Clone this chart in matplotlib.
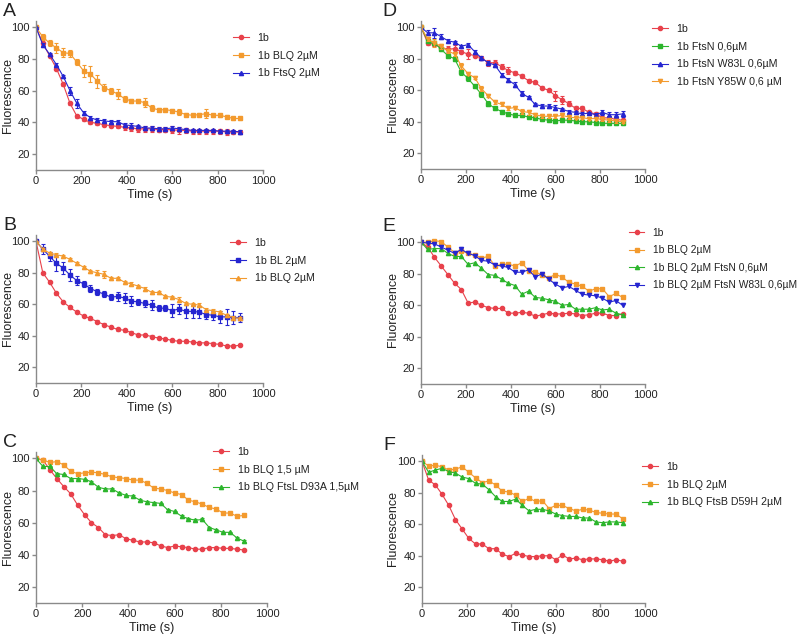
import matplotlib
matplotlib.use("Agg")
import matplotlib.pyplot as plt

plt.rcParams["font.family"] = ["Liberation Sans", "DejaVu Sans"]

RED = "#e8414b"
ORANGE = "#f39a2e"
BLUE = "#2525d0"
GREEN = "#2cb52c"
AXIS = "#8a8a8a"
TEXT = "#222222"

time_s = [0, 30, 60, 90, 120, 150, 180, 210, 240, 270, 300, 330, 360, 390, 420, 450,
          480, 510, 540, 570, 600, 630, 660, 690, 720, 750, 780, 810, 840, 870, 900]

# Panel A
a_1b = [100, 90, 82, 74, 64, 52, 44, 42, 40, 39.5, 38.5, 38, 37.5, 37, 36.5, 36, 36, 36,
        35.5, 35.5, 35.5, 35, 35, 34.5, 34.5, 34.5, 34.5, 34.5, 34, 34, 34]
a_1b_err = [0, 1, 1, 1, 1, 1, 1, 1, 1, 1, 1, 1, 1, 1.5, 2, 2, 2, 2, 1.5, 1.5, 2, 2, 1.5,
            1.5, 1.5, 1.5, 1.5, 1.5, 2, 1.5, 1.5]
a_blq = [100, 94, 90, 87, 84, 83.5, 78, 72.5, 70.5, 66, 62, 60, 58, 55, 53.5, 53.5, 52.5,
         49, 48, 48, 47.5, 46.5, 45, 44.5, 45, 45.5, 44.5, 44.5, 43.5, 42.5, 42.5]
a_blq_err = [0, 2, 2, 3, 3, 2, 2, 4, 5, 4, 2, 2, 3, 2, 1, 1, 3, 2, 1, 1, 1, 2, 1, 1, 1, 3,
             1, 1, 1, 1, 1]
a_ftsq = [100, 89, 83, 76.5, 69, 60, 52, 46, 43, 41.5, 41, 40.5, 40.5, 38.5, 38, 37.5,
          36.5, 36.5, 36, 36, 36.5, 36, 35.5, 35, 35, 35, 35, 34.5, 34.5, 34.5, 34]
a_ftsq_err = [0, 1, 1, 1, 1, 2.5, 3, 1.5, 1, 1, 1, 1, 1, 1, 1.5, 1, 1, 1, 1, 1, 1, 1, 1,
              1, 1, 1, 1, 1, 1, 1, 1]

# Panel B
b_1b = [100, 80, 74, 67, 61.5, 58, 55, 52.5, 51, 49, 47, 45.5, 44, 43.5, 42, 40.5, 40.5,
        39.5, 38.5, 38, 37, 36.5, 36.5, 36, 35.5, 35.5, 35, 34.5, 33.5, 33.5, 34]
b_1b_err = [0.8] * 31
b_bl = [100, 95, 90.5, 86, 83, 78.5, 75, 73, 70, 68, 66.5, 64.5, 65, 64, 62, 61.5, 60.5,
        59.5, 57.5, 57.5, 56, 57, 55.5, 55.5, 55, 53.5, 53, 52, 52, 51.5, 51.5]
b_bl_err = [0, 3, 3, 5, 4, 4, 3, 2, 2, 2, 2, 2, 3, 3, 3, 2, 2, 3, 2, 2, 4, 3, 4, 4, 4, 3,
            3, 4, 5, 4, 3]
b_blq = [100, 95, 92.5, 91.5, 90.5, 88.5, 86, 83.5, 81, 80, 79, 76.5, 76.5, 74, 73, 71.5,
         70, 67.5, 67.5, 65, 64.5, 63, 60.5, 60, 59.5, 56.5, 56, 55, 53, 51.5, 51]
b_blq_err = [0, 1, 1, 1, 1, 1, 1, 1, 1, 1.5, 2, 1, 1, 1, 1, 1, 1, 1, 1, 1, 1, 1.5, 1, 1,
             1.5, 1, 1, 1, 1, 1, 1]

# Panel C
c_1b = [100, 99, 93, 87.5, 82.5, 78, 71, 65, 60, 57, 52.5, 52, 52.5, 50, 49, 48, 48, 47.5,
        45.5, 44.5, 45.5, 45, 44.5, 43.5, 43.5, 44.5, 44.5, 44, 44, 43.5, 43]
c_1b_err = [0.5] * 20 + [1.5, 1] + [0.5] * 9
c_blq = [100, 99, 97.5, 98, 96, 92, 90.5, 91, 91.5, 91, 90, 88.5, 88, 87.5, 86.5, 86.5,
         84.5, 81.5, 81, 80, 78.5, 77.5, 74, 73, 71.5, 69.5, 68.5, 66, 66, 64, 64.5]
c_blq_err = [0.6] * 31
c_ftsl = [100, 95, 95, 90.5, 90, 87.5, 87.5, 87, 85.5, 82, 81, 81, 78.5, 77, 76.5, 74, 73,
          72.5, 72, 68, 67, 64, 62.5, 61.5, 62, 57, 55.5, 54, 54, 50.5, 48.5]
c_ftsl_err = [0.5] * 24 + [1.2] + [0.5] * 6

# Panel D
d_1b = [100, 90, 89.5, 87, 86, 86.5, 84.5, 83, 82, 80.5, 77.5, 77.5, 75, 72.5, 71, 69, 66,
        65, 61.5, 60, 56.5, 54, 51.5, 48.5, 48.5, 46, 45, 42.5, 42.5, 41.5, 41]
d_1b_err = [0, 1.5, 1.5, 1.5, 2, 2.5, 1, 3, 1, 1, 2, 2, 1.5, 2, 1, 1.5, 1, 1, 1, 1, 3,
            2.5, 1.5, 1.5, 1.5, 1, 1, 1, 1, 1, 1]
d_ftsn = [100, 91.5, 90, 86, 82, 80, 71.5, 67.5, 62.5, 57.5, 51.5, 48.5, 46.5, 45, 44, 44,
          43, 42.5, 41.5, 41, 40.5, 41, 41, 40.5, 40, 40, 39.5, 39, 39, 39, 39]
d_ftsn_err = [0, 1, 1, 1, 1.5, 1.5, 1.5, 1.5, 1, 1.5, 1.5, 1, 1, 1, 1, 1, 1, 1, 1, 1, 1,
              1, 1, 1, 1, 1, 1, 1, 1, 1, 1]
d_w83l = [100, 96.5, 96.5, 94, 91.5, 90.5, 88, 89, 84.5, 80.5, 77.5, 76, 70, 66.5, 63.5, 58,
          55.5, 51, 50, 50, 49, 48, 46.5, 46, 45, 45.5, 44.5, 46, 44.5, 44.5, 45]
d_w83l_err = [0, 1.5, 3, 1.5, 1, 1, 1, 1, 1, 1, 1, 1, 1, 1, 1.5, 1.5, 1, 1, 1, 1.5, 1.5,
              1, 1, 1, 1, 1, 1, 1.5, 1.5, 2, 2]
d_y85w = [100, 92.5, 90, 88, 85, 83, 75.5, 70.5, 68, 61, 56.5, 52.5, 51, 48.5, 49, 46.5, 46,
          44.5, 43.5, 43.5, 43.5, 44, 43, 42.5, 42.5, 42, 42, 41.5, 41, 40.5, 40]
d_y85w_err = [0, 1.5, 2.5, 1.5, 1.5, 1.5, 2, 1, 1, 1.5, 1, 1, 1, 1, 1, 1.5, 1.5, 1, 1, 1,
              1, 1, 1, 1, 1, 1, 1, 1, 1, 1, 1]

# Panel E
e_1b = [100, 97, 90.5, 85, 79.5, 74, 70, 61.5, 62, 60, 58.5, 58, 58, 55, 55, 55.5, 55, 53,
        54, 55, 54.5, 54.5, 55, 54.5, 53.5, 54, 55, 55, 53.5, 53.5, 54.5]
e_blq = [100, 100, 101, 100.5, 97, 93.5, 94.5, 93, 92, 90, 91, 85, 86, 86, 85, 87, 82, 81,
         79.5, 77.5, 79.5, 78, 74.5, 73.5, 72, 69, 70.5, 70.5, 65.5, 67.5, 65]
e_ftsn = [100, 95.5, 96, 96, 93, 91, 91, 86, 87, 83.5, 79.5, 79, 76.5, 74, 72.5, 67, 69, 65,
          64.5, 63.5, 62.5, 60, 60.5, 57.5, 57.5, 57.5, 58.5, 57, 57.5, 55, 54]
e_w83l = [100, 99.5, 99, 97, 95, 93, 95.5, 93, 91.5, 88.5, 88, 85.5, 85, 84, 81, 81, 82.5,
          78, 80, 76.5, 73.5, 71, 72, 69.5, 67, 66.5, 66, 64.5, 62, 63, 60]

# Panel F
f_1b = [100, 88, 85, 79, 72, 63, 57, 51, 47.5, 47.5, 44.5, 44.5, 41, 39.5, 41.5, 40.5, 39.5,
        39.5, 40, 40, 37.5, 40.5, 38, 38.5, 37.5, 38, 38, 37.5, 36.5, 37.5, 36.5]
f_blq = [100, 97, 97.5, 96.5, 94.5, 95, 96.5, 93, 89.5, 86.5, 87.5, 85, 81, 80.5, 78.5, 74.5,
         76.5, 74.5, 75, 70, 72, 72, 70, 68.5, 69.5, 69, 67.5, 67, 66.5, 66.5, 63.5]
f_ftsb = [100, 93, 94.5, 95.5, 93.5, 92.5, 90, 89, 86, 85.5, 82, 77.5, 74.5, 74.5, 76, 72,
          68.5, 69.5, 69.5, 68.5, 66.5, 65.5, 65, 65, 64, 64, 61.5, 61, 61.5, 61.5, 61]

# letter, axes rect (px: left, top, right, bottom), legend anchor (px), legend size, series
panels = [
    ("A", (36, 21, 263, 170), (233, 32), 7.7, [
        ("1b", a_1b, a_1b_err, RED, "o"),
        ("1b BLQ 2µM", a_blq, a_blq_err, ORANGE, "s"),
        ("1b FtsQ 2µM", a_ftsq, a_ftsq_err, BLUE, "^"),
    ]),
    ("B", (36, 235, 263, 383), (230, 237), 7.7, [
        ("1b", b_1b, b_1b_err, RED, "o"),
        ("1b BL 2µM", b_bl, b_bl_err, BLUE, "s"),
        ("1b BLQ 2µM", b_blq, b_blq_err, ORANGE, "^"),
    ]),
    ("C", (36, 452, 267, 603), (213, 446), 7.7, [
        ("1b", c_1b, c_1b_err, RED, "o"),
        ("1b BLQ 1,5 µM", c_blq, c_blq_err, ORANGE, "s"),
        ("1b BLQ FtsL D93A 1,5µM", c_ftsl, c_ftsl_err, GREEN, "^"),
    ]),
    ("D", (421, 21, 645, 169), (652, 23), 7.7, [
        ("1b", d_1b, d_1b_err, RED, "o"),
        ("1b FtsN 0,6µM", d_ftsn, d_ftsn_err, GREEN, "s"),
        ("1b FtsN W83L 0,6µM", d_w83l, d_w83l_err, BLUE, "^"),
        ("1b FtsN Y85W 0,6 µM", d_y85w, d_y85w_err, ORANGE, "v"),
    ]),
    ("E", (421, 236, 645, 384), (629, 227), 7.4, [
        ("1b", e_1b, None, RED, "o"),
        ("1b BLQ 2µM", e_blq, None, ORANGE, "s"),
        ("1b BLQ 2µM FtsN 0,6µM", e_ftsn, None, GREEN, "^"),
        ("1b BLQ 2µM FtsN W83L 0,6µM", e_w83l, None, BLUE, "v"),
    ]),
    ("F", (422, 455, 645, 603), (642, 461), 7.7, [
        ("1b", f_1b, None, RED, "o"),
        ("1b BLQ 2µM", f_blq, None, ORANGE, "s"),
        ("1b BLQ FtsB D59H 2µM", f_ftsb, None, GREEN, "^"),
    ]),
]

W, H = 800, 636
fig = plt.figure(figsize=(W / 100, H / 100), dpi=100)

for letter, (l, t, r, b), (lx, ly), leg_size, series in panels:
    ax = fig.add_axes([l / W, 1 - b / H, (r - l) / W, (b - t) / H])
    for label, vals, err, color, marker in series:
        if err is not None:
            ax.errorbar(time_s, vals, yerr=err, fmt="none", ecolor=color,
                        elinewidth=0.8, capsize=1.2, capthick=0.8)
        ax.plot(time_s, vals, color=color, marker=marker, markersize=3,
                linewidth=0.8, label=label)
    ax.set_xlim(0, 1000)
    ax.set_ylim(10, 104)
    ax.set_xticks([0, 200, 400, 600, 800, 1000])
    ax.set_yticks([20, 40, 60, 80, 100])
    for side in ["top", "right"]:
        ax.spines[side].set_visible(False)
    for side in ["left", "bottom"]:
        ax.spines[side].set_color(AXIS)
        ax.spines[side].set_linewidth(1)
    ax.tick_params(colors=AXIS, labelcolor=TEXT, labelsize=8, length=3, width=1, pad=1.5)
    ax.set_xlabel("Time (s)", fontsize=9, color=TEXT, labelpad=2)
    ax.set_ylabel("Fluorescence", fontsize=9, color=TEXT)
    # anchor is the right edge of the rotated label
    label_x = 14 if l < 400 else 399
    ax.yaxis.set_label_coords((label_x - l) / (r - l), 0.5)
    ax.legend(loc="upper left", bbox_to_anchor=(lx / W, 1 - (ly + 1) / H),
              bbox_transform=fig.transFigure, frameon=False, fontsize=leg_size,
              borderpad=0, borderaxespad=0, handlelength=1.5, handletextpad=0.8,
              labelspacing=0.72, labelcolor=TEXT)
    fig.text((l - 33) / W if l < 400 else (l - 39) / W, 1 - (t - 18) / H, letter,
             fontsize=14, color=TEXT, va="top", ha="left")

fig.savefig("out.png", dpi=100)
